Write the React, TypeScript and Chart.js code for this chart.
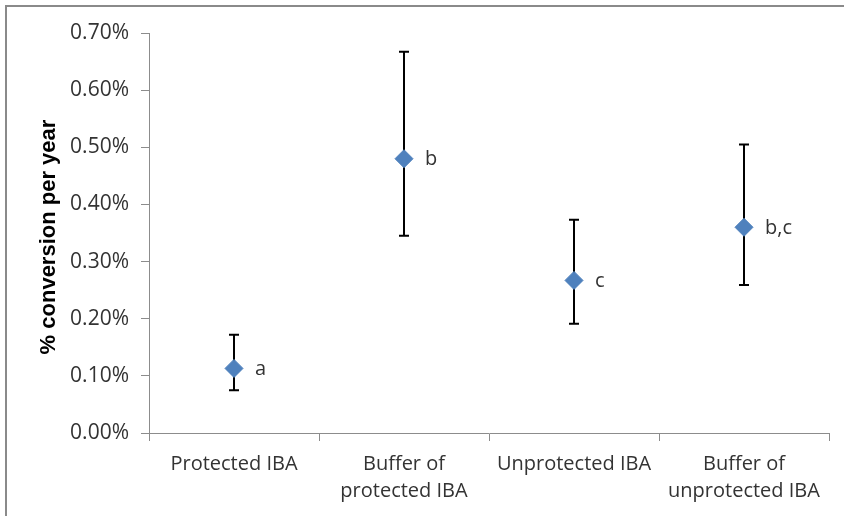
import React, { useEffect, useRef } from "react";
import { Chart, registerables } from "chart.js";

Chart.register(...registerables);

const categories: string[][] = [
  ["Protected IBA"],
  ["Buffer of", "protected IBA"],
  ["Unprotected IBA"],
  ["Buffer of", "unprotected IBA"],
];
const meanValues = [0.113, 0.48, 0.267, 0.36];
const upperValues = [0.172, 0.667, 0.373, 0.505];
const lowerValues = [0.075, 0.345, 0.191, 0.259];
const groupLetters = ["a", "b", "c", "b,c"];
const yTicks = [0, 0.1, 0.2, 0.3, 0.4, 0.5, 0.6, 0.7];
const yTitle = "% conversion per year";

const TEXT_FONT = "'Open Sans', sans-serif";
const AXIS_COLOR = "#8c8c8c";
const TEXT_COLOR = "#333333";

const borderPlugin = {
  id: "frameBorder",
  beforeDraw(chart: any) {
    const ctx = chart.ctx;
    ctx.save();
    ctx.fillStyle = "#ffffff";
    ctx.fillRect(0, 0, chart.width, chart.height);
    ctx.strokeStyle = "#8a8a8a";
    ctx.lineWidth = 2;
    ctx.beginPath();
    ctx.moveTo(6, chart.height);
    ctx.lineTo(6, 6);
    ctx.lineTo(chart.width, 6);
    ctx.stroke();
    ctx.restore();
  },
};

const errorBarPlugin = {
  id: "errorBars",
  beforeDatasetsDraw(chart: any) {
    const ctx = chart.ctx;
    const xs = chart.scales.x;
    const ys = chart.scales.y;
    ctx.save();
    ctx.strokeStyle = "#000000";
    ctx.lineWidth = 2;
    upperValues.forEach((up, i) => {
      const x = Math.round(xs.getPixelForValue(i));
      const yt = ys.getPixelForValue(up);
      const yb = ys.getPixelForValue(lowerValues[i]);
      ctx.beginPath();
      ctx.moveTo(x, yt);
      ctx.lineTo(x, yb);
      ctx.moveTo(x - 5, yt);
      ctx.lineTo(x + 5, yt);
      ctx.moveTo(x - 5, yb);
      ctx.lineTo(x + 5, yb);
      ctx.stroke();
    });
    ctx.restore();
  },
  afterDatasetsDraw(chart: any) {
    const ctx = chart.ctx;
    const xs = chart.scales.x;
    const ys = chart.scales.y;
    ctx.save();
    ctx.fillStyle = TEXT_COLOR;
    ctx.font = `20px ${TEXT_FONT}`;
    ctx.textAlign = "left";
    ctx.textBaseline = "middle";
    groupLetters.forEach((t, i) => {
      const x = xs.getPixelForValue(i);
      const y = ys.getPixelForValue(meanValues[i]);
      ctx.fillText(t, x + 21, y + 1);
    });
    // y-axis title
    ctx.font = "bold 22px 'Liberation Sans', Arial, sans-serif";
    ctx.fillStyle = "#000000";
    ctx.textAlign = "center";
    ctx.textBaseline = "middle";
    ctx.translate(49, 237);
    ctx.rotate(-Math.PI / 2);
    ctx.fillText(yTitle, 0, 0);
    ctx.restore();
  },
};

export default function App() {
  const canvasRef = useRef<HTMLCanvasElement | null>(null);

  useEffect(() => {
    if (!canvasRef.current) return;
    const chart = new Chart(canvasRef.current, {
      type: "line",
      data: {
        labels: categories,
        datasets: [
          {
            data: meanValues,
            showLine: false,
            pointStyle: "rectRot",
            pointRadius: 9,
            pointHoverRadius: 9,
            pointBackgroundColor: "#4f81bd",
            pointBorderColor: "#4f81bd",
            pointBorderWidth: 1,
          },
        ],
      },
      options: {
        responsive: false,
        animation: false,
        events: [],
        layout: { padding: { left: 0, right: 15, top: 33, bottom: 0 } },
        plugins: {
          legend: { display: false },
          tooltip: { enabled: false },
          title: { display: false },
        },
        scales: {
          x: {
            type: "category",
            offset: true,
            grid: {
              offset: true,
              drawOnChartArea: false,
              drawTicks: true,
              tickLength: 8,
              color: AXIS_COLOR,
              lineWidth: 1,
            },
            border: { color: AXIS_COLOR, width: 1 },
            ticks: {
              color: TEXT_COLOR,
              font: { family: TEXT_FONT, size: 20, lineHeight: "27px" },
              padding: 10,
              maxRotation: 0,
              autoSkip: false,
            },
            afterFit(scale: any) {
              scale.height = 83;
            },
          },
          y: {
            min: 0,
            max: 0.7,
            afterBuildTicks(scale: any) {
              scale.ticks = yTicks.map((v) => ({ value: v }));
            },
            grid: {
              drawOnChartArea: false,
              drawTicks: true,
              tickLength: 8,
              color: AXIS_COLOR,
              lineWidth: 1,
            },
            border: { color: AXIS_COLOR, width: 1 },
            ticks: {
              color: TEXT_COLOR,
              font: { family: TEXT_FONT, size: 21 },
              padding: 12,
              callback: (v: any) => Number(v).toFixed(2) + "%",
            },
            afterFit(scale: any) {
              scale.width = 149;
            },
          },
        },
      },
      plugins: [borderPlugin, errorBarPlugin],
    });
    return () => chart.destroy();
  }, []);

  return (
    <div style={{ position: "absolute", left: 0, top: 0, width: 844, height: 516 }}>
      <canvas ref={canvasRef} width={844} height={516} style={{ display: "block" }} />
    </div>
  );
}
